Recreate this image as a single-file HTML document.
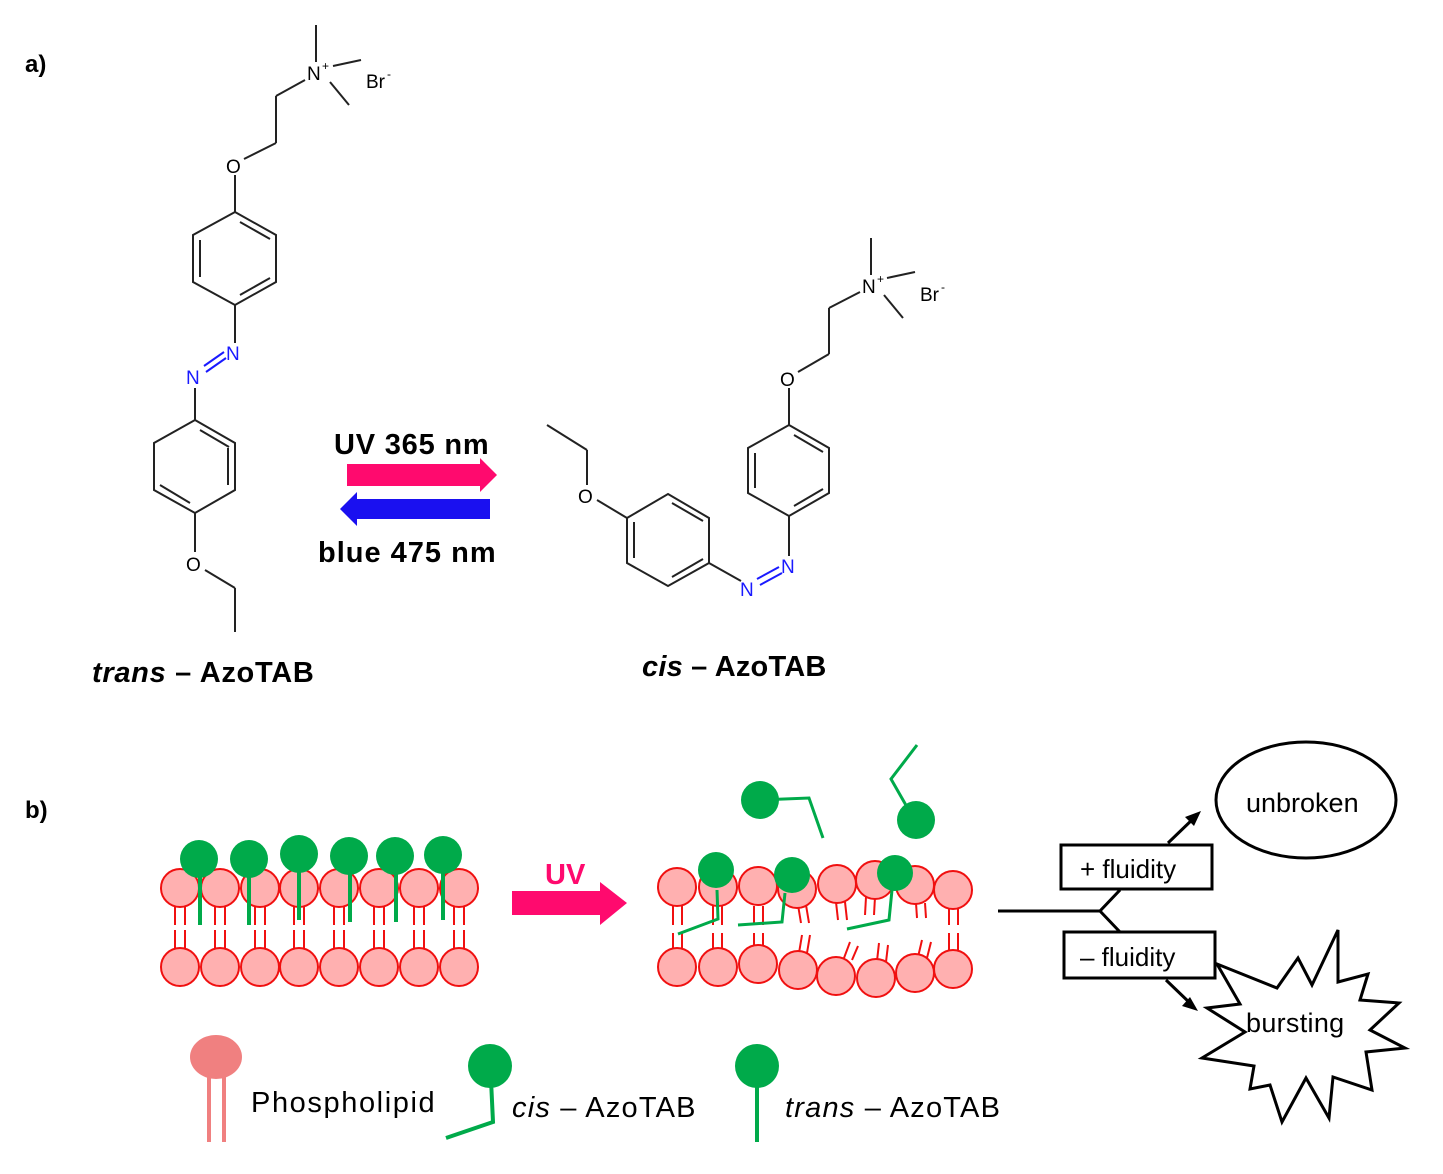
<!DOCTYPE html>
<html><head><meta charset="utf-8"><style>
html,body{margin:0;padding:0;background:#fff}
svg{display:block}
text{font-family:"Liberation Sans",sans-serif}
</style></head><body>
<svg width="1443" height="1174" viewBox="0 0 1443 1174" xmlns="http://www.w3.org/2000/svg">
<rect width="1443" height="1174" fill="#fff"/>
<text x="25" y="72" font-size="24" font-weight="bold">a)</text>
<text x="25" y="818" font-size="24" font-weight="bold">b)</text>

<g stroke="#222" stroke-width="2" fill="none">
<line x1="316" y1="25" x2="316" y2="62"/>
<line x1="333" y1="66" x2="361" y2="60"/>
<line x1="330" y1="82" x2="349" y2="105"/>
<line x1="305" y1="80" x2="276" y2="96"/>
<line x1="276" y1="96" x2="276" y2="143"/>
<line x1="276" y1="143" x2="244" y2="159"/>
<line x1="235" y1="175" x2="235" y2="212"/>
<polygon points="235,212 276,235 276,282 235,305 193,282 193,235"/>
<line x1="240" y1="222" x2="270" y2="239"/>
<line x1="200" y1="240" x2="200" y2="277"/>
<line x1="240" y1="295" x2="270" y2="278"/>
<line x1="235" y1="305" x2="235" y2="343"/>
<line x1="195" y1="388" x2="195" y2="420"/>
<polygon points="195,420 235,443 235,490 195,513 154,490 154,443"/>
<line x1="200" y1="430" x2="229" y2="447"/>
<line x1="228" y1="448" x2="228" y2="485"/>
<line x1="160" y1="485" x2="190" y2="503"/>
<line x1="195" y1="513" x2="195" y2="552"/>
<line x1="205" y1="570" x2="235" y2="588"/>
<line x1="235" y1="588" x2="235" y2="632"/>
</g>
<g stroke="#1a1aff" stroke-width="2"><line x1="224" y1="352" x2="204" y2="366"/><line x1="226" y1="358" x2="206" y2="372"/></g>
<text x="307" y="80" font-size="19">N</text><text x="322" y="70" font-size="12">+</text>
<text x="366" y="88" font-size="19">Br</text><text x="387" y="78" font-size="12">-</text>
<text x="226" y="173" font-size="19">O</text>
<text x="226" y="360" font-size="19" fill="#1a1aff">N</text>
<text x="186" y="384" font-size="19" fill="#1a1aff">N</text>
<text x="186" y="571" font-size="19">O</text>
<text x="92" y="682" font-size="29" font-weight="bold" letter-spacing="0.7"><tspan font-style="italic">trans</tspan> – AzoTAB</text>

<g stroke="#222" stroke-width="2" fill="none">
<line x1="871" y1="238" x2="871" y2="275"/>
<line x1="887" y1="278" x2="915" y2="272"/>
<line x1="884" y1="295" x2="903" y2="318"/>
<line x1="860" y1="292" x2="829" y2="308"/>
<line x1="829" y1="308" x2="829" y2="354"/>
<line x1="829" y1="354" x2="798" y2="372"/>
<line x1="789" y1="388" x2="789" y2="425"/>
<polygon points="789,425 829,448 829,493 789,516 748,493 748,448"/>
<line x1="794" y1="435" x2="823" y2="452"/>
<line x1="755" y1="453" x2="755" y2="488"/>
<line x1="794" y1="506" x2="823" y2="489"/>
<line x1="789" y1="516" x2="789" y2="556"/>
<polygon points="668,494 709,518 709,563 668,586 627,563 627,518"/>
<line x1="672" y1="503" x2="703" y2="521"/>
<line x1="634" y1="522" x2="634" y2="558"/>
<line x1="672" y1="577" x2="703" y2="559"/>
<line x1="709" y1="563" x2="741" y2="581"/>
<line x1="627" y1="518" x2="597" y2="500"/>
<line x1="587" y1="485" x2="587" y2="450"/>
<line x1="587" y1="450" x2="547" y2="425"/>
</g>
<g stroke="#1a1aff" stroke-width="2"><line x1="757" y1="579" x2="779" y2="567"/><line x1="760" y1="585" x2="782" y2="573"/></g>
<text x="862" y="293" font-size="19">N</text><text x="877" y="283" font-size="12">+</text>
<text x="920" y="301" font-size="19">Br</text><text x="941" y="291" font-size="12">-</text>
<text x="780" y="386" font-size="19">O</text>
<text x="578" y="503" font-size="19">O</text>
<text x="781" y="573" font-size="19" fill="#1a1aff">N</text>
<text x="740" y="596" font-size="19" fill="#1a1aff">N</text>
<text x="642" y="676" font-size="29" font-weight="bold" letter-spacing="0.2"><tspan font-style="italic">cis</tspan> – AzoTAB</text>

<text x="334" y="454" font-size="29" font-weight="bold" letter-spacing="0.8">UV 365 nm</text>
<polygon points="347,464 480,464 480,458 497,475 480,492 480,486 347,486" fill="#ff0a6e"/>
<polygon points="490,499 357,499 357,492 340,509 357,526 357,519 490,519" fill="#1a10f0"/>
<text x="318" y="562" font-size="29" font-weight="bold" letter-spacing="1">blue 475 nm</text>

<g stroke="#f01010" stroke-width="2" fill="#ffb0b0">
<g fill="none">
<line x1="175" y1="906" x2="175" y2="925"/><line x1="185" y1="906" x2="185" y2="925"/><line x1="175" y1="930" x2="175" y2="950"/><line x1="185" y1="930" x2="185" y2="950"/>
<line x1="215" y1="906" x2="215" y2="925"/><line x1="225" y1="906" x2="225" y2="925"/><line x1="215" y1="930" x2="215" y2="950"/><line x1="225" y1="930" x2="225" y2="950"/>
<line x1="255" y1="906" x2="255" y2="925"/><line x1="265" y1="906" x2="265" y2="925"/><line x1="255" y1="930" x2="255" y2="950"/><line x1="265" y1="930" x2="265" y2="950"/>
<line x1="294" y1="906" x2="294" y2="925"/><line x1="304" y1="906" x2="304" y2="925"/><line x1="294" y1="930" x2="294" y2="950"/><line x1="304" y1="930" x2="304" y2="950"/>
<line x1="334" y1="906" x2="334" y2="925"/><line x1="344" y1="906" x2="344" y2="925"/><line x1="334" y1="930" x2="334" y2="950"/><line x1="344" y1="930" x2="344" y2="950"/>
<line x1="374" y1="906" x2="374" y2="925"/><line x1="384" y1="906" x2="384" y2="925"/><line x1="374" y1="930" x2="374" y2="950"/><line x1="384" y1="930" x2="384" y2="950"/>
<line x1="414" y1="906" x2="414" y2="925"/><line x1="424" y1="906" x2="424" y2="925"/><line x1="414" y1="930" x2="414" y2="950"/><line x1="424" y1="930" x2="424" y2="950"/>
<line x1="454" y1="906" x2="454" y2="925"/><line x1="464" y1="906" x2="464" y2="925"/><line x1="454" y1="930" x2="454" y2="950"/><line x1="464" y1="930" x2="464" y2="950"/>
</g>
<circle cx="180" cy="888" r="19"/><circle cx="220" cy="888" r="19"/><circle cx="260" cy="888" r="19"/><circle cx="299" cy="888" r="19"/><circle cx="339" cy="888" r="19"/><circle cx="379" cy="888" r="19"/><circle cx="419" cy="888" r="19"/><circle cx="459" cy="888" r="19"/>
<circle cx="180" cy="967" r="19"/><circle cx="220" cy="967" r="19"/><circle cx="260" cy="967" r="19"/><circle cx="299" cy="967" r="19"/><circle cx="339" cy="967" r="19"/><circle cx="379" cy="967" r="19"/><circle cx="419" cy="967" r="19"/><circle cx="459" cy="967" r="19"/>
</g>
<g stroke="#00aa4a" stroke-width="4"><line x1="200" y1="870" x2="200" y2="925"/><line x1="249" y1="870" x2="249" y2="925"/><line x1="299" y1="865" x2="299" y2="920"/><line x1="350" y1="865" x2="350" y2="922"/><line x1="396" y1="865" x2="396" y2="922"/><line x1="443" y1="865" x2="443" y2="920"/></g>
<g fill="#00aa4a"><circle cx="199" cy="859" r="19"/><circle cx="249" cy="859" r="19"/><circle cx="299" cy="854" r="19"/><circle cx="349" cy="856" r="19"/><circle cx="395" cy="856" r="19"/><circle cx="443" cy="855" r="19"/></g>

<text x="545" y="884" font-size="29" font-weight="bold" fill="#ff0a6e">UV</text>
<polygon points="512,891 600,891 600,882 627,903 600,925 600,915 512,915" fill="#ff0a6e"/>

<g stroke="#f01010" stroke-width="2" fill="none">
<line x1="673" y1="906" x2="673" y2="925"/><line x1="682" y1="906" x2="682" y2="925"/><line x1="673" y1="933" x2="673" y2="950"/><line x1="682" y1="933" x2="682" y2="950"/>
<line x1="713" y1="906" x2="713" y2="925"/><line x1="722" y1="906" x2="722" y2="925"/><line x1="713" y1="933" x2="713" y2="950"/><line x1="722" y1="933" x2="722" y2="950"/>
<line x1="754" y1="906" x2="754" y2="925"/><line x1="763" y1="906" x2="763" y2="925"/><line x1="754" y1="933" x2="754" y2="950"/><line x1="763" y1="933" x2="763" y2="950"/>
<line x1="798" y1="905" x2="801" y2="923"/><line x1="806" y1="905" x2="809" y2="923"/><line x1="802" y1="935" x2="799" y2="953"/><line x1="810" y1="935" x2="807" y2="953"/>
<line x1="836" y1="902" x2="838" y2="920"/><line x1="845" y1="902" x2="847" y2="920"/><line x1="850" y1="942" x2="844" y2="958"/><line x1="858" y1="946" x2="852" y2="960"/>
<line x1="866" y1="897" x2="865" y2="915"/><line x1="875" y1="897" x2="874" y2="915"/><line x1="879" y1="943" x2="877" y2="961"/><line x1="888" y1="945" x2="886" y2="962"/>
<line x1="916" y1="903" x2="917" y2="918"/><line x1="925" y1="903" x2="926" y2="918"/><line x1="922" y1="940" x2="918" y2="957"/><line x1="931" y1="942" x2="927" y2="958"/>
<line x1="949" y1="908" x2="949" y2="925"/><line x1="958" y1="908" x2="958" y2="925"/><line x1="949" y1="933" x2="949" y2="950"/><line x1="958" y1="933" x2="958" y2="950"/>
</g>
<g stroke="#f01010" stroke-width="2" fill="#ffb0b0">
<circle cx="677" cy="887" r="19"/><circle cx="718" cy="887" r="19"/><circle cx="758" cy="886" r="19"/><circle cx="797" cy="889" r="19"/><circle cx="837" cy="884" r="19"/><circle cx="875" cy="880" r="19"/><circle cx="915" cy="885" r="19"/><circle cx="953" cy="890" r="19"/>
<circle cx="677" cy="967" r="19"/><circle cx="718" cy="967" r="19"/><circle cx="758" cy="964" r="19"/><circle cx="798" cy="970" r="19"/><circle cx="836" cy="976" r="19"/><circle cx="876" cy="978" r="19"/><circle cx="915" cy="973" r="19"/><circle cx="953" cy="969" r="19"/>
</g>
<g stroke="#00aa4a" stroke-width="3" fill="none">
<polyline points="717,890 718,919 678,934"/>
<polyline points="785,893 782,922 738,925"/>
<polyline points="892,890 889,920 847,929"/>
<polyline points="760,800 809,798 823,838"/>
<polyline points="917,745 891,779 907,807"/>
</g>
<g fill="#00aa4a"><circle cx="716" cy="870" r="18"/><circle cx="792" cy="875" r="18"/><circle cx="895" cy="873" r="18"/><circle cx="760" cy="800" r="19"/><circle cx="916" cy="820" r="19"/></g>

<g stroke="#000" stroke-width="3" fill="none">
<line x1="998" y1="911" x2="1100" y2="911"/>
<polyline points="1120,890 1100,911 1120,932"/>
<polygon fill="#fff" points="1217,964 1277,988 1298,958 1312,985 1338,930 1338,982 1368,974 1360,1000 1399,1003 1370,1030 1405,1048 1366,1052 1372,1090 1333,1077 1329,1118 1306,1078 1282,1122 1270,1085 1250,1089 1254,1066 1202,1058 1245,1032 1207,1008 1240,1004"/>
<rect x="1061" y="845" width="151" height="44" fill="#fff"/>
<rect x="1064" y="932" width="151" height="46" fill="#fff"/>
<line x1="1168" y1="843" x2="1195" y2="817"/>
<line x1="1166" y1="980" x2="1192" y2="1005"/>
<ellipse cx="1306" cy="800" rx="90" ry="58"/>
</g>
<polygon points="1201,811 1185,817 1194,826" fill="#000"/>
<polygon points="1198,1011 1182,1006 1190,997" fill="#000"/>
<text x="1080" y="878" font-size="26">+ fluidity</text>
<text x="1080" y="966" font-size="26">– fluidity</text>
<text x="1246" y="812" font-size="27">unbroken</text>
<text x="1246" y="1032" font-size="27" letter-spacing="0.3">bursting</text>

<g stroke="#f08080" stroke-width="4"><line x1="209" y1="1070" x2="209" y2="1142"/><line x1="224" y1="1070" x2="224" y2="1142"/></g>
<ellipse cx="216" cy="1057" rx="26" ry="22" fill="#f08080"/>
<text x="251" y="1112" font-size="29" letter-spacing="1.6">Phospholipid</text>
<polyline points="491,1080 493,1122 446,1138" stroke="#00aa4a" stroke-width="4" fill="none"/>
<circle cx="490" cy="1066" r="22" fill="#00aa4a"/>
<text x="512" y="1117" font-size="29" letter-spacing="1.2"><tspan font-style="italic">cis</tspan> –  AzoTAB</text>
<line x1="757" y1="1080" x2="757" y2="1142" stroke="#00aa4a" stroke-width="4"/>
<circle cx="757" cy="1066" r="22" fill="#00aa4a"/>
<text x="785" y="1117" font-size="29" letter-spacing="1.2"><tspan font-style="italic">trans</tspan> – AzoTAB</text>
</svg>
</body></html>
